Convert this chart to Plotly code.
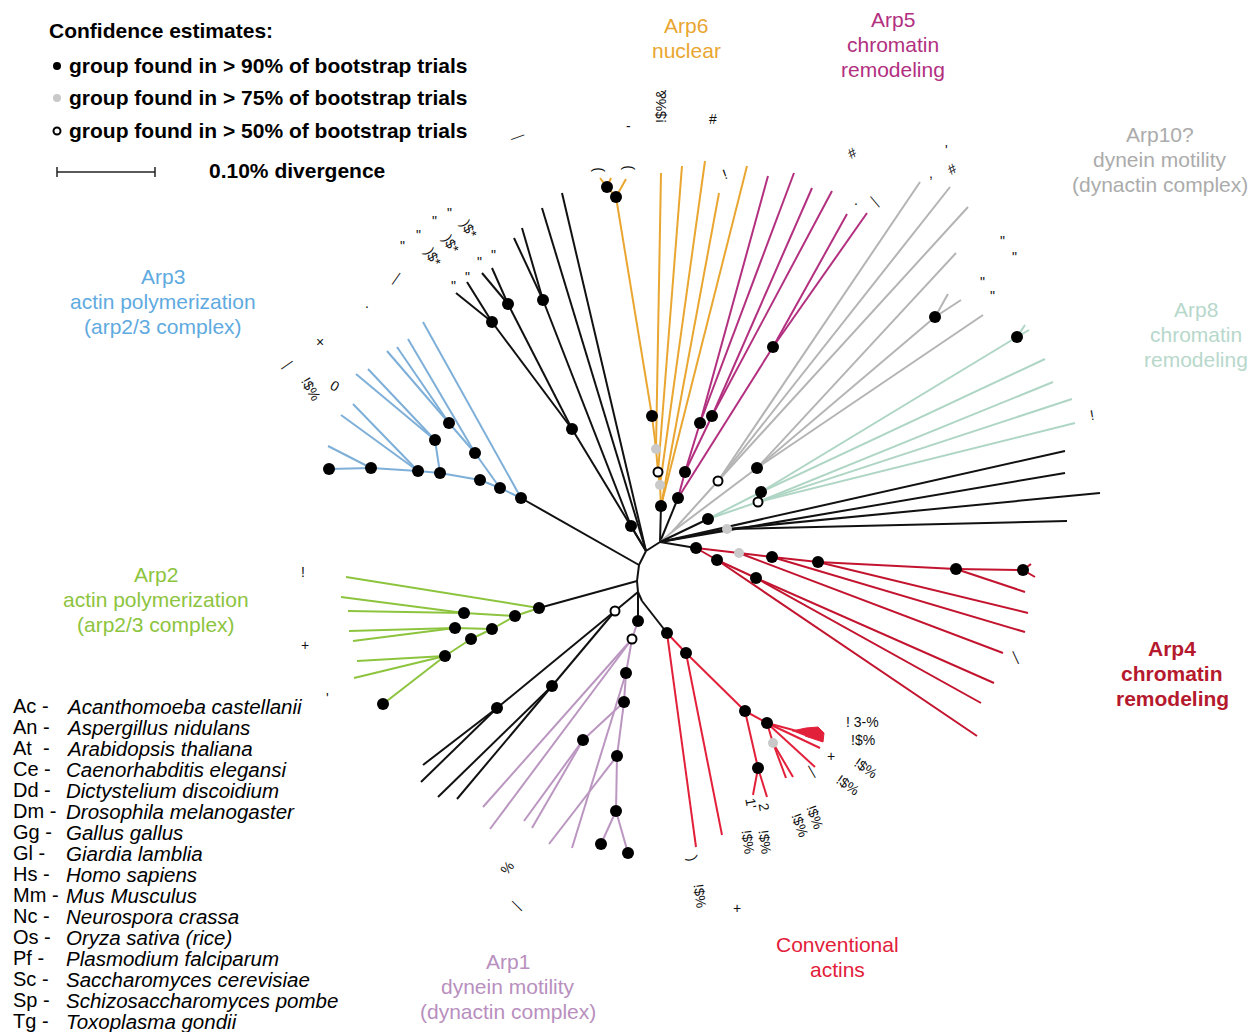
import plotly.graph_objects as go

# ---------------- tree data: (node, x, y, parent, bootstrap class) ----------------
# bootstrap class: "b" >90%, "g" >75%, "o" >50%, "" not shown
center_nodes = [
    ("c0", 660, 542, None, ""), ("c1", 646, 551, "c0", ""), ("c2", 639, 565, "c1", ""),
    ("c3", 637, 581, "c2", ""), ("c4", 638, 592, "c3", ""), ("c5", 642, 601, "c4", ""),
]
black_upper = [
    ("u0", 631, 526, "c1", "b"), ("u2", 543, 300, "u0", "b"),
    ("ut1", 522, 228, "u2", ""), ("ut2", 514, 238, "u2", ""),
    ("u1", 572, 429, "c1", "b"), ("u3", 508, 304, "u1", "b"),
    ("ut3", 492, 268, "u3", ""), ("ut4", 482, 273, "u3", ""),
    ("u4", 492, 322, "u1", "b"), ("ut5", 467, 282, "u4", ""), ("ut6", 456, 293, "u4", ""),
    ("ut7", 562, 193, "c1", ""), ("ut8", 542, 208, "c1", ""),
]
arp3_nodes = [
    ("s0", 521, 498, "c2", "b"), ("st1", 423, 322, "s0", ""),
    ("s1", 500, 488, "s0", "b"), ("s2", 475, 453, "s1", "b"), ("st2", 408, 339, "s2", ""),
    ("s3", 449, 423, "s2", "b"), ("st3", 397, 347, "s3", ""), ("st4", 387, 351, "s3", ""),
    ("s4", 480, 480, "s1", "b"), ("s5", 440, 473, "s4", "b"), ("s6", 435, 440, "s5", "b"),
    ("st5", 368, 369, "s6", ""), ("st6", 356, 374, "s6", ""),
    ("s7", 418, 471, "s5", "b"), ("st7", 353, 404, "s7", ""), ("st8", 341, 415, "s7", ""),
    ("s8", 371, 468, "s7", "b"), ("st9", 328, 446, "s8", ""), ("st10", 329, 469, "s8", "b"),
]
arp6_nodes = [
    ("a0", 661, 506, "c0", "b"), ("a1", 660, 485, "a0", "g"), ("a2", 658, 472, "a1", "o"),
    ("a3", 656, 449, "a2", "g"), ("a4", 652, 416, "a3", "b"), ("a5", 616, 197, "a4", "b"),
    ("a6", 607, 187, "a5", "b"), ("at1", 600, 178, "a6", ""), ("at2", 611, 178, "a6", ""),
    ("at3", 626, 179, "a5", ""), ("at4", 661, 173, "a3", ""), ("at5", 682, 166, "a2", ""),
    ("at6", 705, 161, "a1", ""), ("at7", 719, 193, "a0", ""), ("at8", 747, 166, "a0", ""),
]
arp5_nodes = [
    ("m0", 678, 498, "c0", "b"), ("m1", 685, 472, "m0", "b"), ("m2", 700, 423, "m1", "b"),
    ("mt1", 768, 176, "m2", ""), ("mt2", 794, 173, "m2", ""),
    ("m3", 712, 416, "m1", "b"), ("mt3", 812, 188, "m3", ""), ("mt4", 832, 191, "m3", ""),
    ("m4", 773, 347, "m0", "b"), ("mt5", 847, 214, "m4", ""), ("mt6", 867, 213, "m4", ""),
]
arp10_nodes = [
    ("g0", 672, 532, "c0", ""), ("g1", 718, 481, "g0", "o"),
    ("gt1", 920, 182, "g1", ""), ("gt2", 950, 187, "g1", ""), ("gt3", 968, 207, "g1", ""),
    ("g2", 757, 468, "g0", "b"), ("gt4", 956, 253, "g2", ""),
    ("g3", 935, 317, "g2", "b"), ("gt5", 948, 294, "g3", ""), ("gt6", 961, 300, "g3", ""),
    ("gt7", 983, 315, "g2", ""),
]
arp8_nodes = [
    ("e0", 708, 519, "c0", "b"), ("e1", 761, 492, "e0", "b"),
    ("e2", 1017, 337, "e1", "b"), ("et1", 1029, 330, "e2", ""), ("et2", 1025, 325, "e2", ""),
    ("et3", 1045, 359, "e1", ""),
    ("e3", 758, 502, "e0", "o"), ("et4", 1053, 382, "e3", ""), ("et5", 1072, 399, "e3", ""),
    ("et6", 1075, 423, "e3", ""),
]
black_right = [
    ("r0", 727, 529, "c0", "g"), ("rt1", 1100, 493, "r0", ""), ("rt2", 1067, 521, "r0", ""),
    ("rt3", 1065, 451, "c0", ""), ("rt4", 1065, 473, "c0", ""),
]
arp4_nodes = [
    ("f0", 696, 548, "c0", "b"), ("f1", 739, 553, "f0", "g"), ("f2", 772, 557, "f1", "b"),
    ("f3", 818, 562, "f2", "b"), ("f4", 956, 569, "f3", "b"), ("f5", 1023, 570, "f4", "b"),
    ("ft1", 1035, 577, "f5", ""), ("ft1b", 1031, 564, "f5", ""), ("ft2", 1025, 592, "f4", ""),
    ("ft3", 1028, 613, "f3", ""), ("ft4", 1025, 632, "f2", ""), ("ft5", 1003, 653, "f1", ""),
    ("f6", 717, 560, "f0", "b"), ("f7", 756, 578, "f6", "b"),
    ("ft6", 994, 683, "f7", ""), ("ft7", 981, 703, "f7", ""), ("ft8", 977, 736, "f6", ""),
]
actin_nodes = [
    ("k0", 667, 633, "c5", "b"), ("kt1", 696, 847, "k0", ""),
    ("k1", 686, 653, "k0", "b"), ("kt2", 722, 835, "k1", ""),
    ("k2", 745, 711, "k1", "b"), ("k3", 758, 768, "k2", "b"),
    ("kt3", 753, 795, "k3", ""), ("kt4", 767, 797, "k3", ""),
    ("k4", 767, 723, "k2", "b"), ("k5", 773, 743, "k4", "g"),
    ("kt5", 786, 778, "k5", ""), ("kt6", 793, 777, "k5", ""),
    ("kt7", 815, 767, "k4", ""), ("kt8", 820, 748, "k4", ""), ("kt9", 797, 731, "k4", ""),
]
actin_wedge_x = [792, 806, 818, 824, 823, 805]
actin_wedge_y = [731, 728, 727, 733, 742, 736]
arp1_nodes = [
    ("p0", 638, 621, "c4", "b"), ("p1", 632, 639, "p0", "o"),
    ("pt1", 483, 807, "p1", ""), ("pt2", 490, 829, "p1", ""),
    ("p2", 626, 673, "p1", "b"), ("p3", 624, 702, "p2", "b"),
    ("p4", 583, 740, "p3", "b"), ("pt3", 524, 821, "p4", ""), ("pt4", 532, 828, "p4", ""),
    ("p5", 617, 756, "p3", "b"), ("pt5", 549, 844, "p5", ""),
    ("p6", 616, 811, "p5", "b"), ("pt6", 601, 844, "p6", "b"), ("pt7", 628, 853, "p6", "b"),
    ("pt8", 572, 848, "p2", ""),
]
black_lower = [
    ("l0", 615, 611, "c4", "o"), ("l1", 552, 686, "l0", "b"),
    ("lt1", 438, 797, "l1", ""), ("lt2", 457, 799, "l1", ""),
    ("l2", 497, 708, "l0", "b"), ("lt3", 423, 765, "l2", ""), ("lt4", 421, 782, "l2", ""),
]
arp2_nodes = [
    ("b0", 539, 608, "c3", "b"), ("bt1", 346, 577, "b0", ""),
    ("b1", 515, 616, "b0", "b"), ("b2", 464, 613, "b1", "b"),
    ("bt2", 341, 597, "b2", ""), ("bt3", 348, 611, "b2", ""),
    ("b3", 492, 629, "b1", "b"), ("b4", 455, 628, "b3", "b"),
    ("bt4", 349, 631, "b4", ""), ("bt5", 353, 641, "b4", ""),
    ("b5", 471, 639, "b3", "b"), ("b6", 445, 656, "b5", "b"),
    ("bt6", 357, 661, "b6", ""), ("bt7", 354, 678, "b6", ""), ("bt8", 383, 704, "b6", "b"),
]

clade_tables = [
    (center_nodes, "#111111"), (black_upper, "#111111"), (arp3_nodes, "#7EAFD8"),
    (arp6_nodes, "#E9A630"), (arp5_nodes, "#B2307F"), (arp10_nodes, "#B4B4B4"),
    (arp8_nodes, "#AFD6C4"), (black_right, "#111111"), (arp4_nodes, "#C3142F"),
    (actin_nodes, "#E2203A"), (arp1_nodes, "#BA96C0"), (black_lower, "#111111"),
    (arp2_nodes, "#8DC43E"),
]

# clade labels: (lines, center x, first-line y, colour, bold)
clade_labels = [
    (["Arp6", "nuclear"], 686, 25, "#E9A630", False),
    (["Arp5", "chromatin", "remodeling"], 893, 19, "#B2307F", False),
    (["Arp10?", "dynein motility", "(dynactin complex)"], 1160, 134, "#ABABAB", False),
    (["Arp8", "chromatin", "remodeling"], 1196, 309, "#B7D8CB", False),
    (["Arp4", "chromatin", "remodeling"], 1172, 648, "#B5192E", True),
    (["Conventional", "actins"], 837, 944, "#E2203A", False),
    (["Arp1", "dynein motility", "(dynactin complex)"], 508, 961, "#B88FBE", False),
    (["Arp2", "actin polymerization", "(arp2/3 complex)"], 156, 574, "#8DC43E", False),
    (["Arp3", "actin polymerization", "(arp2/3 complex)"], 163, 276, "#5FAAE0", False),
]

species_abbr = ["Ac -", "An -", "At  -", "Ce -", "Dd -", "Dm -", "Gg -", "Gl -",
                "Hs -", "Mm -", "Nc -", "Os -", "Pf -", "Sc -", "Sp -", "Tg -"]
species_name = ["Acanthomoeba castellanii", "Aspergillus nidulans", "Arabidopsis thaliana",
                "Caenorhabditis elegansi", "Dictystelium discoidium", "Drosophila melanogaster",
                "Gallus gallus", "Giardia lamblia", "Homo sapiens", "Mus Musculus",
                "Neurospora crassa", "Oryza sativa (rice)", "Plasmodium falciparum",
                "Saccharomyces cerevisiae", "Schizosaccharomyces pombe", "Toxoplasma gondii"]

legend_rows = ["group found in > 90% of bootstrap trials",
               "group found in > 75% of bootstrap trials",
               "group found in > 50% of bootstrap trials"]

# garbled leaf-label fragments: (text, x, y, angle)
leaf_fragments = [
    ("!$%&", 661, 106, -90), ("#", 713, 119, 0), ("-", 628, 126, 0), ("—", 517, 136, -20),
    (")", 597, 170, -90), (")", 627, 168, -90), ("!", 725, 174, -20),
    ("#", 852, 153, -30), ("'", 946, 150, 0), (",", 931, 173, 0), ("#", 952, 169, -30),
    (".", 856, 200, 0), ("—", 876, 201, 50),
    ('"', 1002, 241, 0), ('"', 1014, 257, 0), ('"', 982, 282, 0), ('"', 992, 296, 0),
    ("!", 1092, 415, -10),
    ('"', 402, 246, 0), ('"', 418, 235, 0), ('"', 434, 221, 0), ('"', 449, 213, 0),
    (")$*", 433, 257, 60), (")$*", 451, 244, 60), (")$*", 469, 229, 60),
    ('"', 453, 286, 0), ('"', 467, 277, 0), ('"', 479, 262, 0), ('"', 493, 255, 0),
    ("—", 395, 278, -55), (".", 367, 303, 0), ("×", 320, 342, 0), ("—", 286, 364, -35),
    ("!$%", 311, 389, 60), ("0", 335, 386, 30),
    ("!", 303, 572, 0), ("+", 305, 645, 0), ("'", 327, 698, 0),
    ("—", 1017, 657, 65), ("! 3-%", 862, 722, 0), ("!$%", 863, 740, 0), ("+", 831, 756, 0),
    ("!$%", 866, 768, 35), ("!$%", 848, 785, 35), ("—", 813, 771, 60),
    ("1'", 751, 803, 80), ("2", 764, 807, 80), ("!$%", 815, 817, 70), ("!$%", 800, 825, 70),
    ("!$%", 765, 842, 82), ("!$%", 748, 842, 82), (")", 693, 858, 70),
    ("!$%", 700, 896, 82), ("+", 737, 908, 0), ("%", 507, 868, -50), ("—", 518, 905, 45),
]

# ---------------- build figure ----------------
FONT = "Liberation Sans, Arial, Helvetica, sans-serif"
pos = {}
for table, _ in clade_tables:
    for name, x, y, parent, sup in table:
        pos[name] = (x, y)

fig = go.Figure()
for table, color in clade_tables:
    for stem in (True, False):
        xs, ys = [], []
        for name, x, y, parent, sup in table:
            if parent is None:
                continue
            is_stem = parent.startswith("c") and table is not center_nodes
            if is_stem != stem:
                continue
            px, py = pos[parent]
            xs += [px, x, None]
            ys += [py, y, None]
        if xs:
            col = "#111111" if (stem and color != "#B4B4B4") else color
            fig.add_trace(go.Scatter(x=xs, y=ys, mode="lines",
                                     line=dict(color=col, width=2), hoverinfo="skip"))

fig.add_trace(go.Scatter(x=actin_wedge_x, y=actin_wedge_y, fill="toself", mode="lines",
                         fillcolor="#E2203A", line=dict(color="#E2203A", width=1),
                         hoverinfo="skip"))

sup_style = {
    "b": dict(color="#000000", size=12, line=dict(width=0)),
    "g": dict(color="#C9C9C9", size=10, line=dict(width=0)),
    "o": dict(color="white", size=9, line=dict(color="#000000", width=2)),
}
for code, style in sup_style.items():
    xs = [x for t, _ in clade_tables for (n, x, y, p, s) in t if s == code]
    ys = [y for t, _ in clade_tables for (n, x, y, p, s) in t if s == code]
    fig.add_trace(go.Scatter(x=xs, y=ys, mode="markers", marker=style, hoverinfo="skip"))

# legend markers & scale bar
legend_y = [65, 97, 130]
for code, ly in zip(["b", "g", "o"], legend_y):
    st = dict(sup_style[code])
    st["size"] = 8 if code != "o" else 7
    fig.add_trace(go.Scatter(x=[57], y=[ly + 1], mode="markers", marker=st, hoverinfo="skip"))
fig.add_trace(go.Scatter(x=[57, 155, None, 57, 57, None, 155, 155],
                         y=[172, 172, None, 167, 177, None, 167, 177],
                         mode="lines", line=dict(color="#222222", width=1.5), hoverinfo="skip"))

ann = []
ann.append(dict(x=47, y=30, text="<b>Confidence estimates:</b>", xanchor="left", yanchor="middle",
                font=dict(size=21, color="#000000", family=FONT)))
for txt, ly in zip(legend_rows, legend_y):
    ann.append(dict(x=67, y=ly, text="<b>" + txt + "</b>", xanchor="left", yanchor="middle",
                    font=dict(size=21, color="#000000", family=FONT)))
ann.append(dict(x=207, y=170, text="<b>0.10% divergence</b>", xanchor="left", yanchor="middle",
                font=dict(size=21, color="#000000", family=FONT)))

for lines, x, y0, col, bold in clade_labels:
    for j, line in enumerate(lines):
        ann.append(dict(x=x, y=y0 + 25 * j, text=("<b>%s</b>" % line) if bold else line,
                        xanchor="center", yanchor="middle",
                        font=dict(size=21, color=col, family=FONT)))

for i, (ab, nm) in enumerate(zip(species_abbr, species_name)):
    yy = 706 + i * 21
    ann.append(dict(x=11, y=yy, text=ab, xanchor="left", yanchor="middle",
                    font=dict(size=20, color="#000000", family=FONT)))
    ann.append(dict(x=64, y=yy, text="<i>" + nm + "</i>", xanchor="left", yanchor="middle",
                    font=dict(size=20.5, color="#000000", family=FONT)))

for txt, x, y, ang in leaf_fragments:
    ann.append(dict(x=x, y=y, text=txt, xanchor="center", yanchor="middle", textangle=ang,
                    font=dict(size=14, color="#111111", family=FONT)))

for a in ann:
    a.update(xref="x", yref="y", showarrow=False)

fig.update_layout(
    width=1259, height=1032, margin=dict(l=0, r=0, t=0, b=0),
    paper_bgcolor="white", plot_bgcolor="white", showlegend=False,
    xaxis=dict(range=[0, 1259], visible=False, fixedrange=True),
    yaxis=dict(range=[1032, 0], visible=False, fixedrange=True),
    annotations=ann,
)
fig.write_html("out.html")
